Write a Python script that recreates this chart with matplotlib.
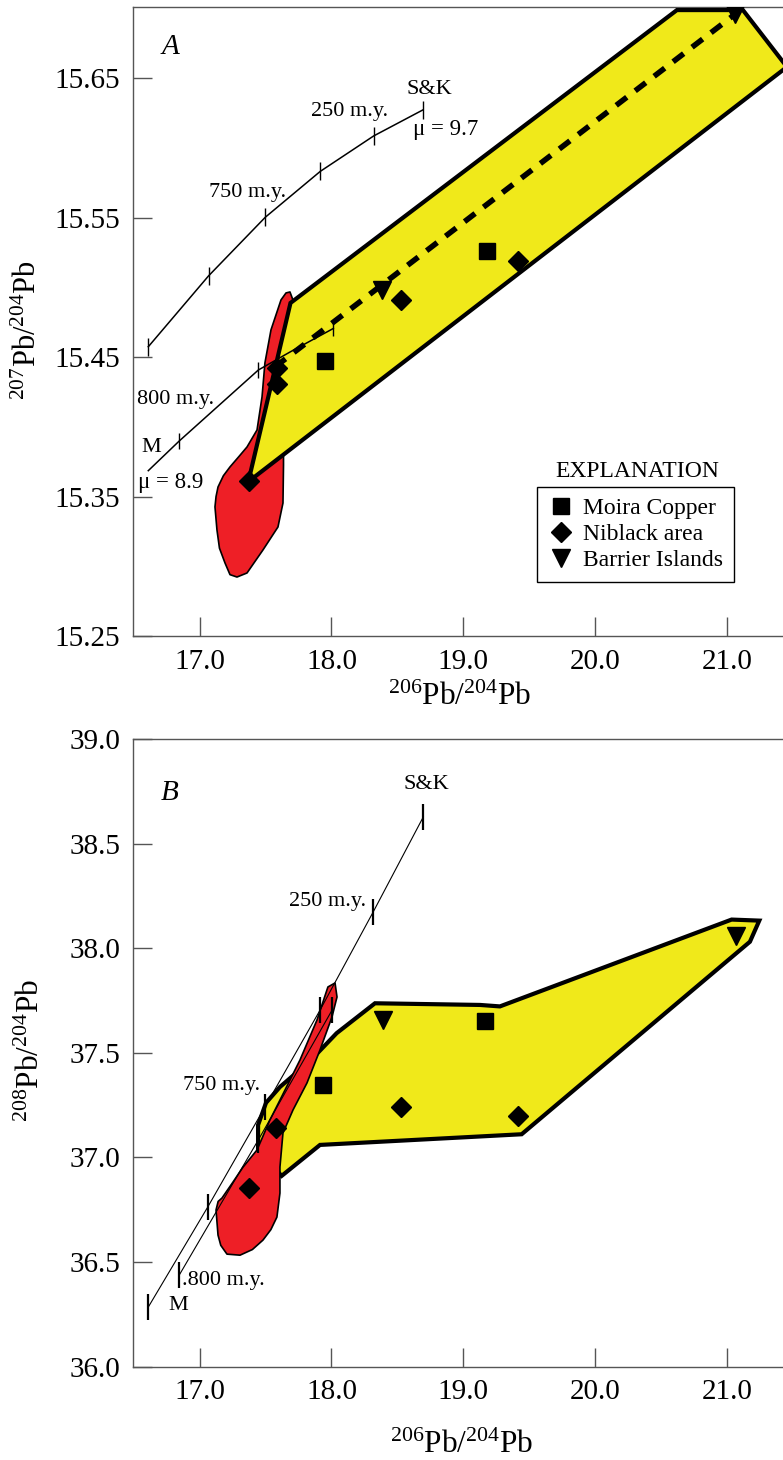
import matplotlib.pyplot as plt

plt.rcParams['font.family'] = ['Liberation Serif', 'DejaVu Serif']
plt.rcParams['mathtext.fontset'] = 'custom'
plt.rcParams['mathtext.rm'] = 'Liberation Serif'
plt.rcParams['mathtext.it'] = 'Liberation Serif:italic'

YELLOW = '#F0E91A'
RED = '#EE1F26'

# ---------------- panel A : 206Pb/204Pb vs 207Pb/204Pb ----------------
a_moira_x = [17.953, 19.178]
a_moira_y = [15.447, 15.526]
a_niblack_x = [17.374, 17.589, 17.584, 18.527, 19.417]
a_niblack_y = [15.361, 15.442, 15.431, 15.491, 15.519]
a_barrier_x = [18.381, 21.062]
a_barrier_y = [15.498, 15.696]

# trend line through the data
a_trend_x = [17.571, 21.062]
a_trend_y = [15.443, 15.696]

# field outlines
a_yellow_x = [17.369, 17.689, 20.621, 21.122, 21.456]
a_yellow_y = [15.3607, 15.4889, 15.699, 15.699, 15.6582]
a_red_x = [17.685, 17.708, 17.700, 17.670, 17.647, 17.640, 17.636, 17.636, 17.632,
           17.594, 17.480, 17.359, 17.283, 17.230, 17.192, 17.150, 17.131, 17.116, 17.124,
           17.139, 17.180, 17.230, 17.300, 17.359, 17.435, 17.473, 17.495, 17.541, 17.617,
           17.655]
a_red_y = [15.4968, 15.4910, 15.4767, 15.4588, 15.4408, 15.4193, 15.3978, 15.3727, 15.3454,
           15.3282, 15.3117, 15.2952, 15.2923, 15.2940, 15.3024, 15.3130, 15.3261, 15.3426,
           15.3500, 15.3569, 15.3650, 15.3713, 15.3790, 15.3856, 15.3978, 15.4215, 15.4459,
           15.4696, 15.4911, 15.4961]

# growth curves (Stacey & Kramers, mu = 9.7 and M, mu = 8.9)
a_sk_x = [16.610, 17.067, 17.498, 17.915, 18.320, 18.692]
a_sk_y = [15.4575, 15.5083, 15.5504, 15.5833, 15.6087, 15.6273]
a_m_x = [16.610, 16.845, 17.445, 17.685, 18.014]
a_m_y = [15.3686, 15.3899, 15.4408, 15.4537, 15.4706]
a_m_tick_x = [16.845, 17.445, 18.014]
a_m_tick_y = [15.3899, 15.4408, 15.4706]

# ---------------- panel B : 206Pb/204Pb vs 208Pb/204Pb ----------------
b_moira_x = [17.933, 19.165]
b_moira_y = [37.347, 37.651]
b_niblack_x = [17.374, 17.577, 18.525, 19.417]
b_niblack_y = [36.856, 37.140, 37.240, 37.196]
b_barrier_x = [18.393, 21.067]
b_barrier_y = [37.657, 38.059]

b_yellow_x = [17.443, 17.622, 17.913, 19.443, 21.175, 21.246, 21.036, 19.278, 19.127,
              18.330, 18.039, 17.837, 17.609, 17.503, 17.443]
b_yellow_y = [37.034, 36.912, 37.060, 37.111, 38.031, 38.132, 38.137, 37.722, 37.729,
              37.737, 37.594, 37.461, 37.337, 37.261, 37.155]
b_red_x = [18.027, 18.042, 18.004, 17.913, 17.814, 17.708, 17.632, 17.609, 17.609, 17.586,
           17.540, 17.480, 17.400, 17.306, 17.207, 17.160, 17.139, 17.124, 17.140, 17.169,
           17.250, 17.329, 17.435, 17.533, 17.647, 17.761, 17.890, 17.973]
b_red_y = [37.834, 37.767, 37.672, 37.514, 37.356, 37.227, 37.117, 36.954, 36.830, 36.715,
           36.655, 36.605, 36.560, 36.533, 36.538, 36.580, 36.629, 36.749, 36.790, 36.806,
           36.880, 36.954, 37.036, 37.179, 37.322, 37.466, 37.657, 37.815]

b_sk_x = [16.610, 17.061, 17.495, 17.913, 18.317, 18.697]
b_sk_y = [36.285, 36.763, 37.241, 37.704, 38.174, 38.628]
b_m_x = [16.845, 17.445, 18.006]
b_m_y = [36.438, 37.084, 37.706]

xticks = [17.0, 18.0, 19.0, 20.0, 21.0]
a_yticks = [15.25, 15.35, 15.45, 15.55, 15.65]
b_yticks = [36.0, 36.5, 37.0, 37.5, 38.0, 38.5, 39.0]

fig = plt.figure(figsize=(7.83, 14.6), dpi=100)
axA = fig.add_axes([0.16986, 0.56438, 0.83014, 0.43082])
axB = fig.add_axes([0.16986, 0.06390, 0.83014, 0.42993])

for ax in (axA, axB):
    ax.set_xlim(16.494, 21.426)
    ax.spines['right'].set_visible(False)
    for s in ('left', 'bottom', 'top'):
        ax.spines[s].set_color('#555555')
        ax.spines[s].set_linewidth(1.0)
    ax.tick_params(direction='in', length=13.5, width=1.0, color='#555555',
                   labelsize=21, pad=9, top=False, right=False)
    ax.set_xticks(xticks)
    ax.set_xticklabels(['%.1f' % v for v in xticks])

# ---- panel A drawing
axA.set_ylim(15.25, 15.7012)
axA.set_yticks(a_yticks)
axA.set_yticklabels(['%.2f' % v for v in a_yticks])

axA.fill(a_red_x, a_red_y, facecolor=RED, edgecolor='k', lw=1.2, joinstyle='round', zorder=2)
axA.fill(a_yellow_x, a_yellow_y, facecolor=YELLOW, edgecolor='k', lw=3.0,
         joinstyle='miter', zorder=3)
axA.plot(a_sk_x, a_sk_y, color='k', lw=1.1, zorder=4)
axA.plot(a_sk_x, a_sk_y, ls='none', marker='|', ms=13.5, mew=1.0, color='k', zorder=4)
axA.plot(a_m_x, a_m_y, color='k', lw=1.1, zorder=4)
axA.plot(a_m_tick_x, a_m_tick_y, ls='none', marker='|', ms=12, mew=1.0, color='k', zorder=4)
axA.plot(a_trend_x, a_trend_y, color='k', lw=4.0, ls=(0, (2.4, 1.9)), zorder=5)

hm, = axA.plot(a_moira_x, a_moira_y, 's', ms=12, color='k', ls='none', zorder=6,
               label='Moira Copper')
hn, = axA.plot(a_niblack_x, a_niblack_y, 'D', ms=10.5, color='k', ls='none', zorder=6,
               label='Niblack area')
hb, = axA.plot(a_barrier_x, a_barrier_y, 'v', ms=13, color='k', ls='none', zorder=6,
               label='Barrier Islands')

axA.text(16.782, 15.6725, 'A', fontsize=21, style='italic', ha='center', va='center')
axA.text(18.740, 15.6417, 'S&K', fontsize=16, ha='center', va='center')
axA.text(18.140, 15.6259, '250 m.y.', fontsize=16, ha='center', va='center')
axA.text(18.618, 15.613, 'μ = 9.7', fontsize=16.5, ha='left', va='center')
axA.text(17.363, 15.5678, '750 m.y.', fontsize=16, ha='center', va='center')
axA.text(16.820, 15.420, '800 m.y.', fontsize=16, ha='center', va='center')
axA.text(16.636, 15.3854, 'M', fontsize=16, ha='center', va='center')
axA.text(16.780, 15.360, 'μ = 8.9', fontsize=16.5, ha='center', va='center')

leg = axA.legend(handles=[hm, hn, hb], loc='upper left', bbox_to_anchor=(0.6215, 0.2369),
                 borderaxespad=0, fontsize=17, frameon=True, fancybox=False,
                 edgecolor='k', framealpha=1, handlelength=1.1, handletextpad=0.4,
                 labelspacing=0.19, borderpad=0.45)
leg.get_frame().set_linewidth(1.0)
axA.text(0.7754, 0.2623, 'EXPLANATION', transform=axA.transAxes, fontsize=17,
         ha='center', va='center')

# ---- panel B drawing
axB.set_ylim(36.0, 39.0)
axB.set_yticks(b_yticks)
axB.set_yticklabels(['%.1f' % v for v in b_yticks])

axB.fill(b_yellow_x, b_yellow_y, facecolor=YELLOW, edgecolor='k', lw=3.0, zorder=2)
axB.fill(b_red_x, b_red_y, facecolor=RED, edgecolor='k', lw=1.2, joinstyle='round', zorder=3)
axB.plot(b_sk_x, b_sk_y, color='k', lw=0.8, zorder=4)
axB.plot(b_sk_x, b_sk_y, ls='none', marker='|', ms=19, mew=1.6, color='k', zorder=4)
axB.plot(b_m_x, b_m_y, color='k', lw=0.8, zorder=4)
axB.plot(b_m_x, b_m_y, ls='none', marker='|', ms=19, mew=1.6, color='k', zorder=4)

axB.plot(b_moira_x, b_moira_y, 's', ms=12, color='k', ls='none', zorder=6)
axB.plot(b_niblack_x, b_niblack_y, 'D', ms=10.5, color='k', ls='none', zorder=6)
axB.plot(b_barrier_x, b_barrier_y, 'v', ms=13, color='k', ls='none', zorder=6)

axB.text(16.775, 38.741, 'B', fontsize=21, style='italic', ha='center', va='center')
axB.text(18.722, 38.781, 'S&K', fontsize=16, ha='center', va='center')
axB.text(17.973, 38.223, '250 m.y.', fontsize=16, ha='center', va='center')
axB.text(17.164, 37.342, '750 m.y.', fontsize=16, ha='center', va='center')
axB.text(17.177, 36.414, '.800 m.y.', fontsize=16, ha='center', va='center')
axB.text(16.838, 36.292, 'M', fontsize=16, ha='center', va='center')

# axis labels
xl = r'$^{206}\mathrm{Pb}/^{204}\mathrm{Pb}$'
fig.text(460 / 783, 1 - 697 / 1460, xl, fontsize=22.5, ha='center', va='center')
fig.text(462 / 783, 1 - 1445 / 1460, xl, fontsize=22.5, ha='center', va='center')
fig.text(28 / 783, 1 - 330 / 1460, r'$^{207}\mathrm{Pb}/^{204}\mathrm{Pb}$', fontsize=22,
         rotation=90, ha='center', va='center')
fig.text(31 / 783, 1 - 1050 / 1460, r'$^{208}\mathrm{Pb}/^{204}\mathrm{Pb}$', fontsize=22.5,
         rotation=90, ha='center', va='center')

fig.savefig('out.png', dpi=100)
